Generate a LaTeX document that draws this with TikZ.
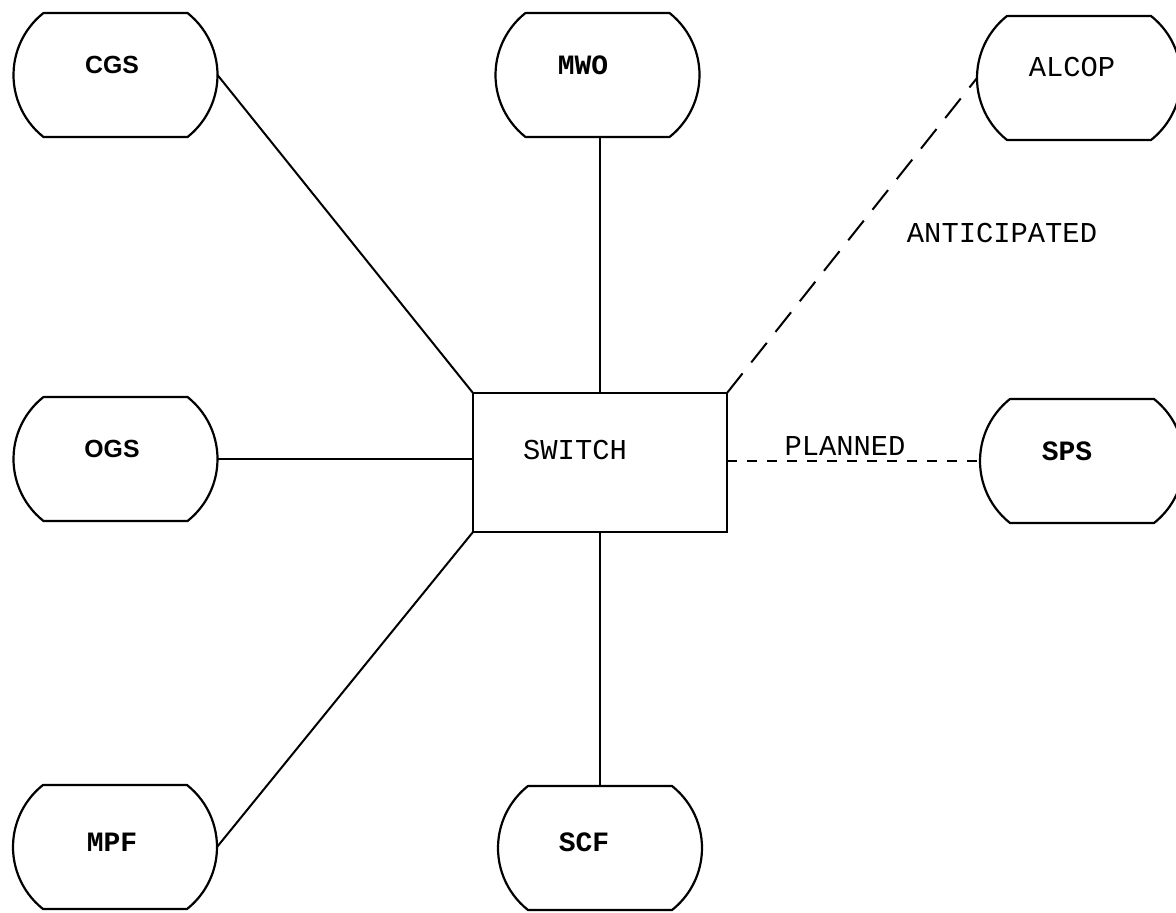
\documentclass[tikz,border=0pt]{standalone}
\usepackage{fontspec}
\newfontfamily\monofont{Liberation Mono}
\newfontfamily\sansfont{Liberation Sans}
\begin{document}
\begin{tikzpicture}[x=0.5pt,y=-0.5pt,
  barrel/.style={minimum width=102pt, minimum height=62pt, inner sep=0pt, outer sep=0pt},
  outline/.style={line width=1.1pt, line join=round},
  box/.style={draw, line width=1.1pt, minimum width=127pt, minimum height=69.5pt, inner sep=0pt, outer sep=0pt},
  conn/.style={line width=1pt},
  longdash/.style={line width=1pt, dash pattern=on 12.5pt off 7pt},
  shortdash/.style={line width=0.8pt, dash pattern=on 5pt off 5pt},
  tw/.style={font=\monofont\fontsize{14.4}{16}\selectfont, inner sep=0pt},
  twb/.style={font=\monofont\bfseries\fontsize{14}{16}\selectfont, inner sep=0pt},
  sf/.style={font=\sansfont\bfseries\fontsize{12.4}{14}\selectfont, inner sep=0pt}]
\useasboundingbox (0,0) rectangle (1176,913);
\fill[white] (0,0) rectangle (1176,913);
% shape nodes
\node[barrel] (cgs) at (115.5,75) {};
\node[barrel] (mwo) at (597.5,75) {};
\node[barrel] (alcop) at (1079,78) {};
\node[barrel] (ogs) at (115.5,459) {};
\node[barrel] (sps) at (1082,461) {};
\node[barrel] (mpf) at (115,847) {};
\node[barrel] (scf) at (600,848) {};
\node[box] (sw) at (600,462.5) {};
\foreach \n in {cgs,mwo,alcop,ogs,sps,mpf,scf}
  \draw[outline, shift={(\n.center)}] (-36pt,31pt) -- (36pt,31pt)
    arc[start angle=51.65, end angle=-51.65, radius=39.53pt]
    -- (-36pt,-31pt)
    arc[start angle=231.65, end angle=128.35, radius=39.53pt] -- cycle;
% labels
\node[sf] (cgs-l) at (112,65) {CGS};
\node[twb] (mwo-l) at (583,65) {MWO};
\node[tw] (alcop-l) at (1072,67) {ALCOP};
\node[sf] (ogs-l) at (112,449) {OGS};
\node[tw] (sw-l) at (575,450) {SWITCH};
\node[twb] (sps-l) at (1067,451) {SPS};
\node[twb] (mpf-l) at (112,842) {MPF};
\node[twb] (scf-l) at (584,842) {SCF};
\node[tw] (ant) at (1002,233) {ANTICIPATED};
\node[tw] (plan) at (845,446) {PLANNED};
% connectors
\draw[conn] (cgs.east) -- (sw.north west);
\draw[conn] (sw.north) -- (sw.north |- mwo.south);
\draw[longdash] (sw.north east) -- (alcop.west);
\draw[conn] (ogs.east) -- (ogs.east -| sw.west);
\draw[shortdash] (sw.east |- sps.west) -- (sps.west);
\draw[conn] (mpf.east) -- (sw.south west);
\draw[conn] (sw.south) -- (sw.south |- scf.north);
\end{tikzpicture}
\end{document}
